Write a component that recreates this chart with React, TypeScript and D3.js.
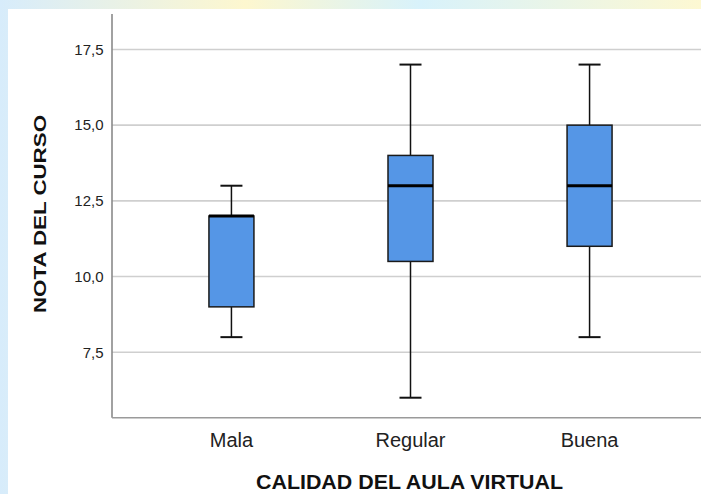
import React, { useRef, useEffect } from 'react';
import * as d3 from 'd3';

const categories = ['Mala', 'Regular', 'Buena'];
const mins = [8, 6, 8];
const q1s = [9, 10.5, 11];
const medians = [12, 13, 13];
const q3s = [12, 14, 15];
const maxs = [13, 17, 17];
const yTicks = [7.5, 10, 12.5, 15, 17.5];

const App = () => {
  const ref = useRef<SVGSVGElement>(null);
  const W = 701;
  const H = 494;

  useEffect(() => {
    const svg = d3.select(ref.current);
    svg.selectAll('*').remove();

    // pale backdrop strips (watermark area), white panel on top
    const defs = svg.append('defs');
    const grad = defs.append('linearGradient').attr('id', 'bg').attr('x1', '0').attr('x2', '1');
    grad.append('stop').attr('offset', '0%').attr('stop-color', '#d7ecfb');
    grad.append('stop').attr('offset', '35%').attr('stop-color', '#fdf7cf');
    grad.append('stop').attr('offset', '60%').attr('stop-color', '#d8f2fb');
    grad.append('stop').attr('offset', '100%').attr('stop-color', '#fdf8d2');
    svg.append('rect').attr('width', W).attr('height', H).attr('fill', 'url(#bg)');
    svg.append('rect').attr('x', 8).attr('y', 9).attr('width', W - 8).attr('height', H - 9).attr('fill', '#fff');

    const x = d3.scalePoint<string>().domain(categories).range([112, 709]).padding(0.667);
    const y = d3.scaleLinear().domain([5.34, 18.67]).range([417.7, 14]);
    const left = 112;
    const bottom = y(5.34);

    // grid
    svg.append('g')
      .selectAll('line')
      .data(yTicks)
      .join('line')
      .attr('x1', left)
      .attr('x2', W)
      .attr('y1', d => y(d))
      .attr('y2', d => y(d))
      .attr('stroke', '#cfcfcf')
      .attr('stroke-width', 1.6);

    // axes
    svg.append('line').attr('x1', left).attr('x2', left).attr('y1', y(18.67)).attr('y2', bottom)
      .attr('stroke', '#8a8a8a').attr('stroke-width', 1.6);
    svg.append('line').attr('x1', left).attr('x2', W).attr('y1', bottom).attr('y2', bottom)
      .attr('stroke', '#9a9a9a').attr('stroke-width', 1.6);

    const fmt = d3.format('.1f');
    svg.append('g')
      .selectAll('text')
      .data(yTicks)
      .join('text')
      .attr('x', 103.5)
      .attr('y', d => y(d))
      .attr('dy', '0.35em')
      .attr('text-anchor', 'end')
      .attr('font-family', 'Liberation Sans, Arial, sans-serif')
      .attr('font-size', 15)
      .attr('fill', '#222')
      .text(d => fmt(d).replace('.', ','));

    svg.append('g')
      .selectAll('text')
      .data(categories)
      .join('text')
      .attr('x', d => x(d)!)
      .attr('y', 447)
      .attr('text-anchor', 'middle')
      .attr('font-family', 'Liberation Sans, Arial, sans-serif')
      .attr('font-size', 20)
      .attr('fill', '#222')
      .text(d => d);

    // boxes
    const boxW = 45;
    const capW = 22;
    const g = svg.append('g');
    categories.forEach((c, i) => {
      const cx = x(c)!;
      g.append('line').attr('x1', cx).attr('x2', cx).attr('y1', y(maxs[i])).attr('y2', y(q3s[i]))
        .attr('stroke', '#111').attr('stroke-width', 1.5);
      g.append('line').attr('x1', cx).attr('x2', cx).attr('y1', y(q1s[i])).attr('y2', y(mins[i]))
        .attr('stroke', '#111').attr('stroke-width', 1.5);
      [mins[i], maxs[i]].forEach(v => {
        g.append('line').attr('x1', cx - capW / 2).attr('x2', cx + capW / 2).attr('y1', y(v)).attr('y2', y(v))
          .attr('stroke', '#111').attr('stroke-width', 2);
      });
      g.append('rect')
        .attr('x', cx - boxW / 2)
        .attr('y', y(q3s[i]))
        .attr('width', boxW)
        .attr('height', y(q1s[i]) - y(q3s[i]))
        .attr('fill', '#5596e6')
        .attr('stroke', '#1a1a1a')
        .attr('stroke-width', 1.5);
      g.append('line').attr('x1', cx - boxW / 2).attr('x2', cx + boxW / 2)
        .attr('y1', y(medians[i])).attr('y2', y(medians[i]))
        .attr('stroke', '#000').attr('stroke-width', 3);
    });

    // titles
    svg.append('text')
      .attr('transform', `translate(46,214) rotate(-90)`)
      .attr('text-anchor', 'middle')
      .attr('font-family', 'Liberation Sans, Arial, sans-serif')
      .attr('font-weight', 'bold')
      .attr('font-size', 16)
      .attr('textLength', 198)
      .attr('lengthAdjust', 'spacingAndGlyphs')
      .attr('fill', '#111')
      .text('NOTA DEL CURSO');

    svg.append('text')
      .attr('x', 409.5)
      .attr('y', 489)
      .attr('text-anchor', 'middle')
      .attr('font-family', 'Liberation Sans, Arial, sans-serif')
      .attr('font-weight', 'bold')
      .attr('font-size', 20)
      .attr('textLength', 307)
      .attr('lengthAdjust', 'spacingAndGlyphs')
      .attr('fill', '#111')
      .text('CALIDAD DEL AULA VIRTUAL');
  }, []);

  return (
    <svg
      ref={ref}
      width={W}
      height={H}
      style={{ position: 'fixed', left: 0, top: 0, display: 'block' }}
    />
  );
};

export default App;
